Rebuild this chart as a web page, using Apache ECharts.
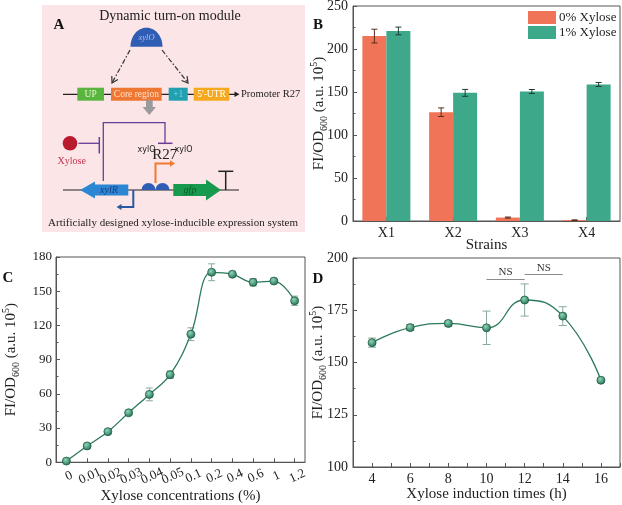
<!DOCTYPE html>
<html lang="en">
<head>
<meta charset="UTF-8">
<title>Xylose inducible expression</title>
<script src="https://cdn.jsdelivr.net/npm/echarts@6/dist/echarts.min.js"></script>
<style>
  html, body { margin: 0; padding: 0; background: #fff; }
  #main { width: 622px; height: 505px; }
</style>
</head>
<body>
<div id="main"></div>
<script>
// ---- data ----
var strains = ['X1', 'X2', 'X3', 'X4'];
var xylose0 = [215, 126.5, 4, 1];
var xylose0Err = [8, 5, 0.6, 0.3];
var xylose1 = [221, 149, 150.6, 158.8];
var xylose1Err = [4.5, 4, 2.3, 2.3];

var concLabels = ['0', '0.01', '0.02', '0.03', '0.04', '0.05', '0.1', '0.2', '0.4', '0.6', '1', '1.2'];
var concFI = [1, 14.3, 26.8, 43.4, 59.5, 76.8, 112.3, 166.6, 164.9, 157.8, 158.9, 141.6];
var concErr = [0.5, 1, 1, 1.8, 5.6, 3.3, 5.6, 7.4, 1.5, 3.3, 1.5, 4.1];

var hours = [4, 6, 8, 10, 12, 14, 16];
var hoursFI = [159.5, 166.7, 168.7, 166.6, 179.9, 172.2, 141.5];
var hoursErr = [2.2, 1.4, 1.2, 8, 7.7, 4.5, 0.6];
var nsPairs = [[10, 12, 190], [12, 14, 192.2]];

// ---- styles ----
var FONT = 'Liberation Serif';
var ORANGE = '#f07457';
var GREEN = '#3ea88a';
var LINE = '#2c7a5c';
var AX = '#555';
var BAR_W = 24;

var yTitle = {
    name: '{a|FI/OD}{s|600}{a| (a.u. 10}{p|5}{a|)}',
    nameLocation: 'middle',
    nameRotate: 90,
    nameTextStyle: {
        fontFamily: FONT, color: '#222',
        rich: {
            a: { fontFamily: FONT, fontSize: 15, lineHeight: 20, color: '#222' },
            s: { fontFamily: FONT, fontSize: 10, lineHeight: 10, verticalAlign: 'bottom', color: '#222' },
            p: { fontFamily: FONT, fontSize: 10, lineHeight: 10, verticalAlign: 'top', color: '#222' }
        }
    }
};

function axisBase(extra) {
    var o = {
        axisLine: { show: true, lineStyle: { color: AX, width: 1 } },
        axisTick: { show: true, inside: true, length: 4, lineStyle: { color: AX } },
        axisLabel: { fontFamily: FONT, fontSize: 14, color: '#222' },
        splitLine: { show: false }
    };
    for (var k in extra) o[k] = extra[k];
    return o;
}

function errRender(offset, cap, color) {
    return function (params, api) {
        var x = api.value(0), v = api.value(1), e = api.value(2);
        var hi = api.coord([x, v + e]);
        var lo = api.coord([x, v - e]);
        var cx = hi[0] + offset;
        var st = { stroke: color, lineWidth: 1 };
        return {
            type: 'group',
            children: [
                { type: 'line', shape: { x1: cx, y1: hi[1], x2: cx, y2: lo[1] }, style: st },
                { type: 'line', shape: { x1: cx - cap, y1: hi[1], x2: cx + cap, y2: hi[1] }, style: st },
                { type: 'line', shape: { x1: cx - cap, y1: lo[1], x2: cx + cap, y2: lo[1] }, style: st }
            ]
        };
    };
}

var ball = {
    type: 'radial', x: 0.4, y: 0.35, r: 0.7,
    colorStops: [{ offset: 0, color: '#8fd6b8' }, { offset: 1, color: '#1d6a4d' }]
};

// ---- panel A drawing helpers ----
function head(x1, y1, x2, y2, len, w) {
    var dx = x2 - x1, dy = y2 - y1, d = Math.sqrt(dx * dx + dy * dy);
    var ux = dx / d, uy = dy / d;
    var bx = x2 - ux * len, by = y2 - uy * len;
    return [[bx - uy * w, by + ux * w], [x2, y2], [bx + uy * w, by - ux * w]];
}
function halfEllipse(cx, cy, rx, ry) {
    var pts = [];
    for (var i = 0; i <= 30; i++) {
        var a = Math.PI + Math.PI * i / 30;
        pts.push([cx + rx * Math.cos(a), cy + ry * Math.sin(a)]);
    }
    return pts;
}
function ln(x1, y1, x2, y2, color, w, dash) {
    return { type: 'line', shape: { x1: x1, y1: y1, x2: x2, y2: y2 },
        style: { stroke: color, lineWidth: w || 1.2, lineDash: dash || null } };
}
function txt(t, x, y, size, color, opts) {
    opts = opts || {};
    return { type: 'text', x: x, y: y, z: 10,
        style: { text: t, fill: color || '#222', textAlign: opts.align || 'center', textVerticalAlign: 'middle',
            font: (opts.style || '') + ' ' + (opts.weight || '') + ' ' + size + 'px ' + (opts.family || FONT) } };
}
function box(x, y, w, h, fill, label, lc) {
    return [
        { type: 'rect', shape: { x: x, y: y, width: w, height: h }, style: { fill: fill } },
        txt(label, x + w / 2, y + h / 2 + 0.5, 9.5, lc)
    ];
}

var A = [];
A.push({ type: 'rect', shape: { x: 42, y: 5, width: 263, height: 227 }, style: { fill: '#fbe5e7' }, z: 0 });
A.push(txt('A', 59, 25, 15, '#111', { weight: 'bold' }));
A.push(txt('Dynamic turn-on module', 170, 16.5, 14, '#222'));
A.push({ type: 'polygon', shape: { points: halfEllipse(146.5, 46.7, 16, 19) }, style: { fill: '#2f5db3' } });
A.push(txt('xylO', 146.5, 38, 8.5, '#b0bdf2', { style: 'italic' }));
A.push(ln(130, 50, 112, 83, '#333', 1.2, [5, 2, 1.5, 2]));
A.push({ type: 'polyline', shape: { points: head(130, 50, 112, 83, 6, 3.5) }, style: { stroke: '#333', lineWidth: 1.2, fill: null } });
A.push(ln(162, 50, 188, 83, '#333', 1.2, [5, 2, 1.5, 2]));
A.push({ type: 'polyline', shape: { points: head(162, 50, 188, 83, 6, 3.5) }, style: { stroke: '#333', lineWidth: 1.2, fill: null } });
A.push(ln(63, 94.3, 236, 94.3, '#222', 1.2));
A.push({ type: 'polygon', shape: { points: head(229, 94.3, 239.5, 94.3, 5, 2.8) }, style: { fill: '#222' } });
A = A.concat(box(77.3, 87.7, 26.7, 13, '#5ab53f', 'UP', '#e4f4cf'));
A = A.concat(box(111, 87.7, 50.7, 13, '#ee7733', 'Core region', '#ffe2cc'));
A = A.concat(box(168.7, 87.7, 19, 13, '#20a0b0', '+1', '#7fd4dc'));
A = A.concat(box(193.7, 87.7, 35.6, 13, '#f6a91c', "5'-UTR", '#fff'));
A.push(txt('Promoter R27', 241, 94.3, 10.5, '#222', { align: 'left' }));
A.push({ type: 'polygon', shape: { points: [[146, 100], [152.7, 100], [152.7, 107], [156, 107], [149.3, 115], [142.6, 107], [146, 107]] }, style: { fill: '#9a9a9a' } });
A.push({ type: 'polyline', shape: { points: [[103.3, 181], [103.3, 122.7], [165, 122.7], [165, 143.3]] }, style: { stroke: '#6b3d99', lineWidth: 1.3, fill: null } });
A.push(ln(158, 143.3, 172.5, 143.3, '#6b3d99', 1.5));
A.push({ type: 'circle', shape: { cx: 70, cy: 143.3, r: 7.3 }, style: { fill: '#b81a2e' } });
A.push(ln(78.5, 143.3, 99.3, 143.3, '#6b3d99', 1.3));
A.push(ln(99.3, 137, 99.3, 153.5, '#6b3d99', 1.5));
A.push(txt('Xylose', 71.7, 161.7, 10, '#c8324e'));
A.push(txt('xylO', 146.5, 149.5, 8, '#222', { family: 'DejaVu Sans' }));
A.push(txt('R27', 164.7, 155, 15, '#222'));
A.push(txt('xylO', 183.5, 149.5, 8, '#222', { family: 'DejaVu Sans' }));
A.push(ln(63, 190, 239, 190, '#222', 1.2));
A.push({ type: 'polyline', shape: { points: [[155.5, 183], [155.5, 163.5], [170, 163.5]] }, style: { stroke: '#f07a30', lineWidth: 2, fill: null } });
A.push({ type: 'polygon', shape: { points: head(168, 163.5, 175, 163.5, 5, 3.2) }, style: { fill: '#f07a30' } });
A.push({ type: 'polygon', shape: { points: [[80, 190], [95, 181.5], [95, 184.5], [128.3, 184.5], [128.3, 195.5], [95, 195.5], [95, 198.5]] }, style: { fill: '#2d86d3' } });
A.push(txt('xylR', 109, 190, 10, '#183b7c', { style: 'italic' }));
A.push({ type: 'polyline', shape: { points: [[133.3, 190], [133.3, 207], [121, 207]] }, style: { stroke: '#2858a0', lineWidth: 2, fill: null } });
A.push({ type: 'polygon', shape: { points: head(123, 207, 116.5, 207, 5, 3) }, style: { fill: '#2858a0' } });
A.push({ type: 'sector', shape: { cx: 148.5, cy: 190, r: 7, r0: 0, startAngle: Math.PI, endAngle: 2 * Math.PI }, style: { fill: '#2f5db3' } });
A.push({ type: 'sector', shape: { cx: 162.5, cy: 190, r: 7, r0: 0, startAngle: Math.PI, endAngle: 2 * Math.PI }, style: { fill: '#2f5db3' } });
A.push({ type: 'polygon', shape: { points: [[173.3, 184], [206, 184], [206, 179.5], [221, 190], [206, 200.5], [206, 196], [173.3, 196]] }, style: { fill: '#189a4e' } });
A.push(txt('gfp', 190, 190, 10, '#0d5a2c', { style: 'italic' }));
A.push(ln(225.7, 190, 225.7, 171.3, '#222', 1.5));
A.push(ln(218.3, 171.3, 233.3, 171.3, '#222', 1.5));
A.push(txt('Artificially designed xylose-inducible expression system', 173, 223.3, 11, '#222'));

// panel letters
A.push(txt('B', 318, 25, 15, '#111', { weight: 'bold' }));
A.push(txt('C', 8, 278, 15, '#111', { weight: 'bold' }));
A.push(txt('D', 318, 279, 15, '#111', { weight: 'bold' }));

// ---- chart ----
var chart = echarts.init(document.getElementById('main'));

var option = {
    animation: false,
    backgroundColor: '#fff',
    textStyle: { fontFamily: FONT },
    graphic: { elements: A },
    legend: {
        data: ['0% Xylose', '1% Xylose'],
        orient: 'vertical',
        left: 528, top: 11, padding: 0,
        itemWidth: 28, itemHeight: 13, itemGap: 2,
        icon: 'rect',
        textStyle: { fontFamily: FONT, fontSize: 13, color: '#222', padding: [0, 0, 0, -2] }
    },
    grid: [
        { left: 353, top: 6, width: 267, height: 215, show: true, borderColor: AX, borderWidth: 1, outerBoundsMode: 'none' },
        { left: 42, top: 257, width: 263, height: 210, show: true, borderColor: AX, borderWidth: 1 },
        { left: 353, top: 258, width: 267, height: 209, show: true, borderColor: AX, borderWidth: 1, outerBoundsMode: 'none' }
    ],
    xAxis: [
        axisBase({
            gridIndex: 0, type: 'category', data: strains,
            name: 'Strains', nameLocation: 'middle', nameGap: 17, nameMoveOverlap: false,
            nameTextStyle: { fontFamily: FONT, fontSize: 15, color: '#222' },
            axisTick: { show: true, inside: true, length: 4, alignWithLabel: true, lineStyle: { color: AX } },
            axisLabel: { fontFamily: FONT, fontSize: 14, color: '#222', margin: 5 }
        }),
        axisBase({
            gridIndex: 1, type: 'category', data: concLabels,
            name: 'Xylose concentrations (%)', nameLocation: 'middle', nameGap: 23,
            nameTextStyle: { fontFamily: FONT, fontSize: 15, color: '#222' },
            axisTick: { show: true, inside: true, length: 4, alignWithLabel: true, lineStyle: { color: AX } },
            axisLabel: { fontFamily: FONT, fontSize: 13, color: '#222', rotate: 25, align: 'center',
                verticalAlign: 'top', margin: 8, interval: 0, hideOverlap: false }
        }),
        axisBase({
            gridIndex: 2, type: 'value', min: 3, max: 17, interval: 1,
            name: 'Xylose induction times (h)', nameLocation: 'middle', nameGap: 20, nameMoveOverlap: false,
            nameTextStyle: { fontFamily: FONT, fontSize: 15, color: '#222' },
            axisLabel: { fontFamily: FONT, fontSize: 14, color: '#222', margin: 5,
                formatter: function (v) { return v % 2 === 0 ? v : ''; } }
        })
    ],
    yAxis: [
        axisBase(Object.assign({}, yTitle, {
            gridIndex: 0, type: 'value', min: 0, max: 250, interval: 50, nameGap: 24, nameMoveOverlap: false,
            minorTick: { show: true, splitNumber: 2, length: 2.5, lineStyle: { color: AX } },
            axisLabel: { fontFamily: FONT, fontSize: 14, color: '#222', margin: 5 }
        })),
        axisBase(Object.assign({}, yTitle, {
            gridIndex: 1, type: 'value', min: 0, max: 180, interval: 30, nameGap: 35,
            minorTick: { show: true, splitNumber: 2, length: 2.5, lineStyle: { color: AX } },
            axisLabel: { fontFamily: FONT, fontSize: 13, color: '#222', margin: 4 }
        })),
        axisBase(Object.assign({}, yTitle, {
            gridIndex: 2, type: 'value', min: 100, max: 200, interval: 25, nameGap: 25, nameMoveOverlap: false,
            minorTick: { show: true, splitNumber: 2, length: 2.5, lineStyle: { color: AX } },
            axisLabel: { fontFamily: FONT, fontSize: 14, color: '#222', margin: 5 }
        }))
    ],
    series: [
        {
            name: '0% Xylose', type: 'bar', xAxisIndex: 0, yAxisIndex: 0,
            data: xylose0, barWidth: BAR_W, barGap: '0%', itemStyle: { color: ORANGE }
        },
        {
            name: '1% Xylose', type: 'bar', xAxisIndex: 0, yAxisIndex: 0,
            data: xylose1, barWidth: BAR_W, barGap: '0%', itemStyle: { color: GREEN }
        },
        {
            type: 'custom', xAxisIndex: 0, yAxisIndex: 0, z: 5,
            renderItem: errRender(-BAR_W / 2, 3, '#5a2a20'),
            data: strains.map(function (s, i) { return [i, xylose0[i], xylose0Err[i]]; })
        },
        {
            type: 'custom', xAxisIndex: 0, yAxisIndex: 0, z: 5,
            renderItem: errRender(BAR_W / 2, 3, '#1f3b33'),
            data: strains.map(function (s, i) { return [i, xylose1[i], xylose1Err[i]]; })
        },
        {
            type: 'custom', xAxisIndex: 1, yAxisIndex: 1, z: 3,
            renderItem: errRender(0, 3.5, '#8aa99c'),
            data: concLabels.map(function (s, i) { return [i, concFI[i], concErr[i]]; })
        },
        {
            type: 'line', xAxisIndex: 1, yAxisIndex: 1, z: 4,
            data: concFI, smooth: 0.4,
            symbol: 'circle', symbolSize: 8,
            lineStyle: { color: LINE, width: 1.3 },
            itemStyle: { color: ball, borderColor: '#1d5c44', borderWidth: 0.8 }
        },
        {
            type: 'custom', xAxisIndex: 2, yAxisIndex: 2, z: 3,
            renderItem: errRender(0, 4, '#8aa99c'),
            data: hours.map(function (h, i) { return [h, hoursFI[i], hoursErr[i]]; })
        },
        {
            type: 'line', xAxisIndex: 2, yAxisIndex: 2, z: 4,
            data: hours.map(function (h, i) { return [h, hoursFI[i]]; }), smooth: 0.5,
            symbol: 'circle', symbolSize: 8,
            lineStyle: { color: LINE, width: 1.3 },
            itemStyle: { color: ball, borderColor: '#1d5c44', borderWidth: 0.8 },
            markLine: {
                silent: true, symbol: 'none',
                lineStyle: { color: '#8c8c8c', type: 'solid', width: 1.2 },
                label: { show: true, position: 'middle', formatter: 'NS', fontFamily: FONT, fontSize: 11, color: '#333', distance: 1 },
                data: nsPairs.map(function (p) { return [{ coord: [p[0], p[2]] }, { coord: [p[1], p[2]] }]; })
            }
        }
    ]
};

chart.setOption(option);
</script>
</body>
</html>
